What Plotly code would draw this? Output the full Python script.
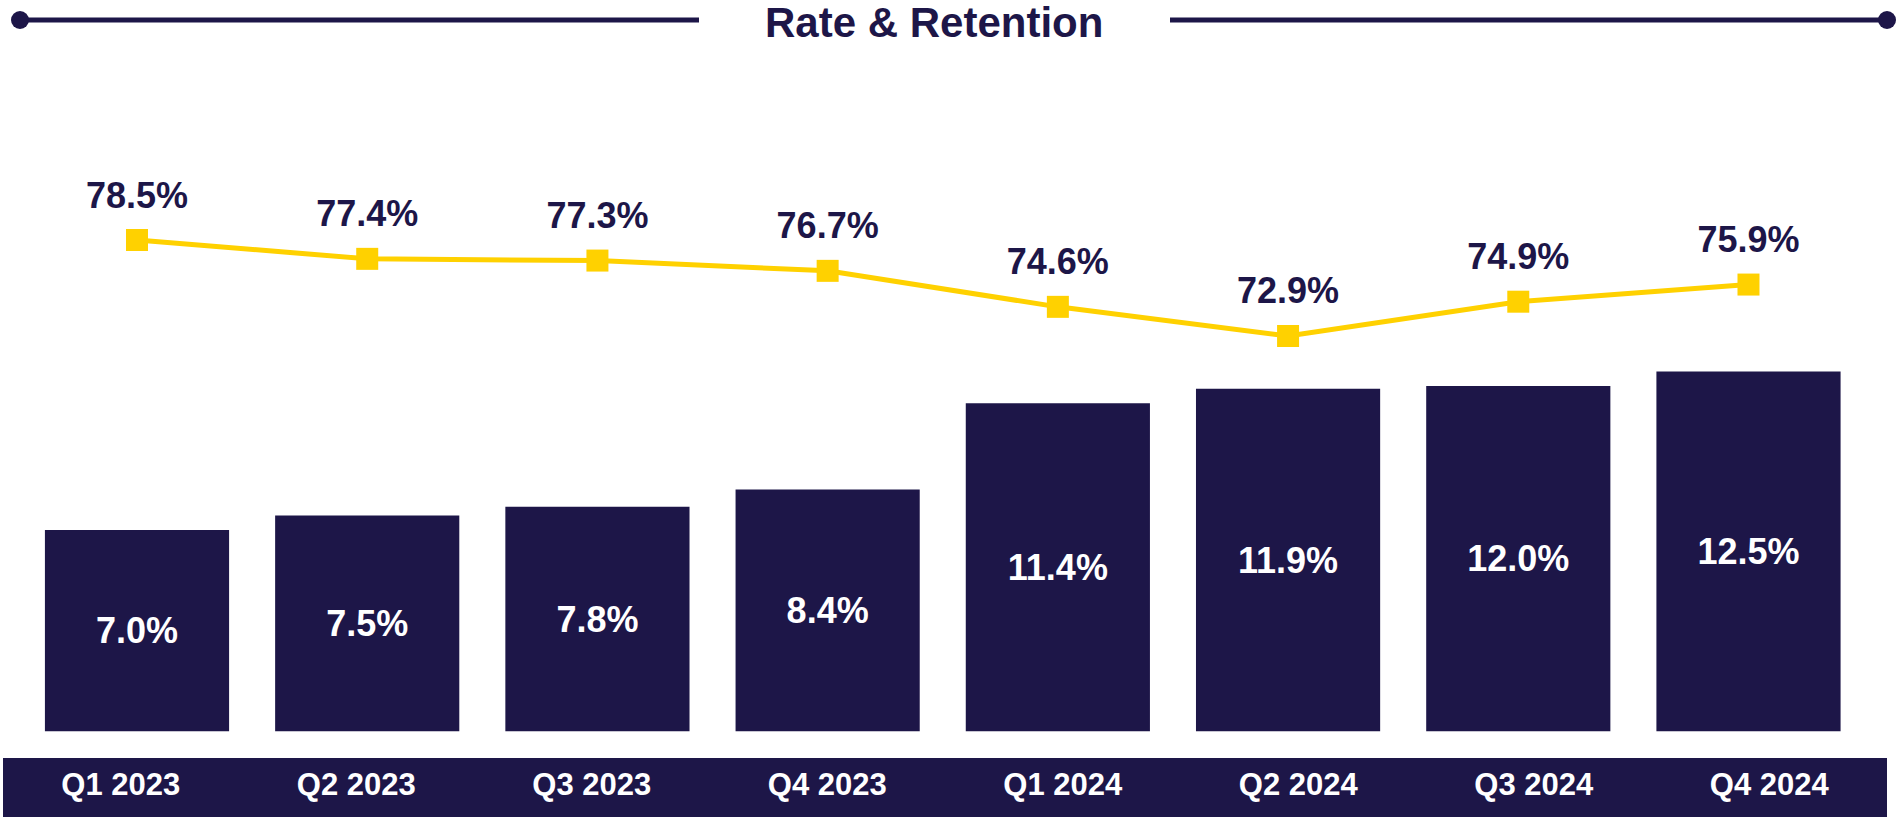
import plotly.graph_objects as go

W, H = 1896, 817

# ---- data ----
quarters = ["Q1 2023", "Q2 2023", "Q3 2023", "Q4 2023", "Q1 2024", "Q2 2024", "Q3 2024", "Q4 2024"]
rate = [7.0, 7.5, 7.8, 8.4, 11.4, 11.9, 12.0, 12.5]
retention = [78.5, 77.4, 77.3, 76.7, 74.6, 72.9, 74.9, 75.9]
title_text = "Rate & Retention"

NAVY = "#1D1648"
YELLOW = "#FFD100"
FONT = "Liberation Sans, Arial, sans-serif"


def px_x(x):
    return x / W


def px_y(y):
    return (H - y) / H


# plot area geometry (pixels)
plot_top, plot_bottom = 100, 731.5
plot_h = plot_bottom - plot_top
bar_scale = 28.8       # px per rate unit
line_scale = 17.14     # px per retention unit
y2_bottom = 78.5 - (plot_bottom - 240) / line_scale

fig = go.Figure()

fig.add_trace(go.Bar(
    x=quarters, y=rate,
    marker=dict(color=NAVY, line=dict(width=0)),
    text=[f"{v:.1f}%" for v in rate],
    textposition="inside", insidetextanchor="middle",
    textfont=dict(family=FONT, size=36, color="white", weight="bold"),
    textangle=0,
    xaxis="x", yaxis="y",
    hoverinfo="skip",
))

fig.add_trace(go.Scatter(
    x=quarters, y=retention,
    mode="lines+markers",
    line=dict(color=YELLOW, width=5),
    marker=dict(symbol="square", size=22, color=YELLOW),
    xaxis="x", yaxis="y2",
    cliponaxis=False,
    hoverinfo="skip",
))

# value labels above the retention markers
fig.add_trace(go.Scatter(
    x=quarters, y=retention,
    mode="markers+text",
    marker=dict(size=36, opacity=0),
    text=[f"{v:.1f}%" for v in retention],
    textposition="top center",
    textfont=dict(family=FONT, size=36, color=NAVY, weight="bold"),
    xaxis="x", yaxis="y2",
    cliponaxis=False,
    hoverinfo="skip",
))

# category labels in the bottom band
fig.add_trace(go.Scatter(
    x=quarters, y=[0.5] * len(quarters),
    mode="text",
    text=quarters,
    textposition="middle center",
    textfont=dict(family=FONT, size=31, color="white", weight="bold"),
    xaxis="x2", yaxis="y3",
    hoverinfo="skip",
    cliponaxis=False,
))

shapes = [
    # bottom band
    dict(type="rect", xref="paper", yref="paper",
         x0=px_x(3), x1=px_x(1887), y0=px_y(817), y1=px_y(758),
         fillcolor=NAVY, line=dict(width=0), layer="below"),
    # title rules
    dict(type="line", xref="paper", yref="paper",
         x0=px_x(20), x1=px_x(699), y0=px_y(20), y1=px_y(20),
         line=dict(color=NAVY, width=5)),
    dict(type="line", xref="paper", yref="paper",
         x0=px_x(1170), x1=px_x(1887), y0=px_y(20), y1=px_y(20),
         line=dict(color=NAVY, width=5)),
    dict(type="circle", xref="paper", yref="paper",
         x0=px_x(11), x1=px_x(29), y0=px_y(29), y1=px_y(11),
         fillcolor=NAVY, line=dict(width=0)),
    dict(type="circle", xref="paper", yref="paper",
         x0=px_x(1878), x1=px_x(1896), y0=px_y(29), y1=px_y(11),
         fillcolor=NAVY, line=dict(width=0)),
]

fig.update_layout(
    width=W, height=H,
    margin=dict(l=0, r=0, t=0, b=0),
    paper_bgcolor="white", plot_bgcolor="rgba(0,0,0,0)",
    showlegend=False,
    bargap=0.2,
    shapes=shapes,
    annotations=[dict(
        text=title_text, xref="paper", yref="paper",
        x=px_x(934), y=px_y(22), xanchor="center", yanchor="middle",
        showarrow=False,
        font=dict(family=FONT, size=42, color=NAVY, weight="bold"),
    )],
    xaxis=dict(domain=[px_x(21.9), px_x(1863.6)], range=[-0.5, 7.5],
               type="category", visible=False, anchor="y"),
    yaxis=dict(domain=[px_y(plot_bottom), px_y(plot_top)],
               range=[0, plot_h / bar_scale], visible=False),
    yaxis2=dict(domain=[px_y(plot_bottom), px_y(plot_top)],
                range=[y2_bottom, y2_bottom + plot_h / line_scale],
                overlaying="y", visible=False),
    xaxis2=dict(domain=[px_x(3), px_x(1887)], range=[-0.5, 7.5],
                type="category", visible=False, anchor="y3"),
    yaxis3=dict(domain=[0, px_y(758)], range=[0, 1], visible=False),
)

fig.write_html("out.html", config={"displayModeBar": False},
               post_script="document.body.style.margin='0';")
